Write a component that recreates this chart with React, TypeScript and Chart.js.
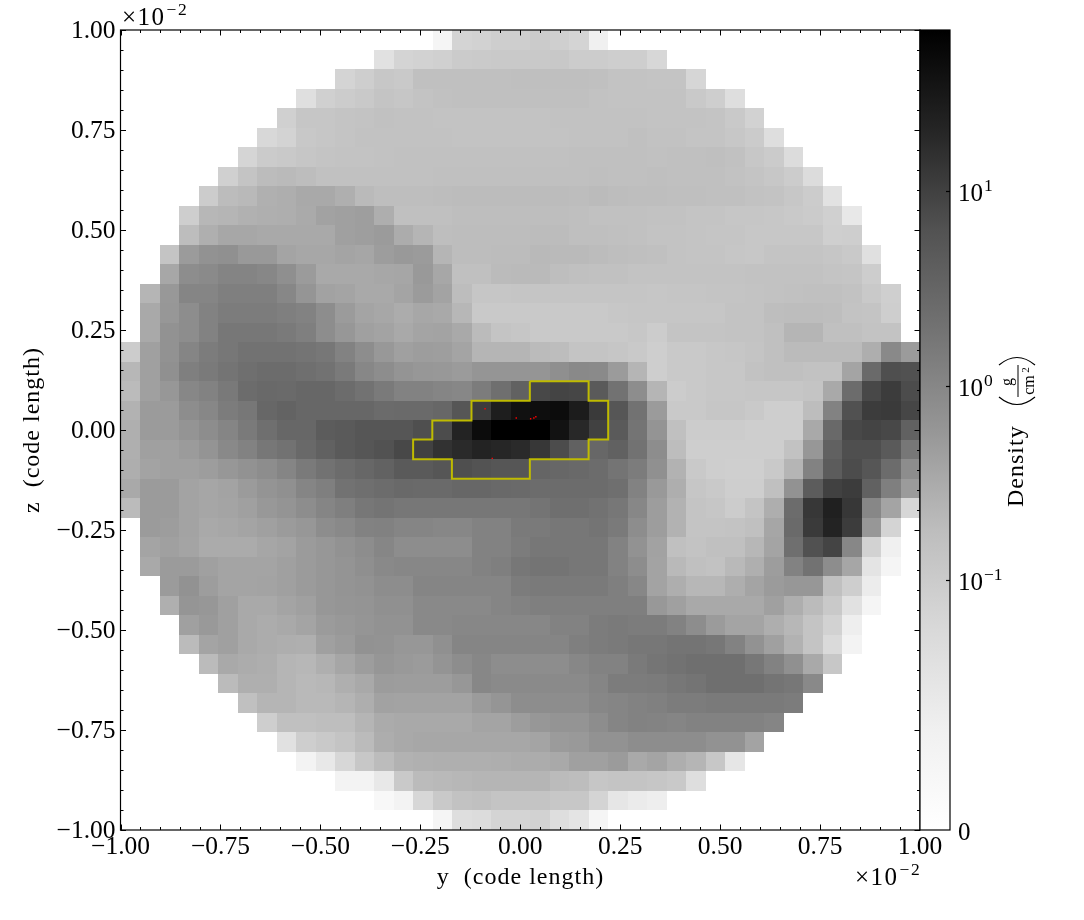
import React, { useEffect, useRef } from "react";
import { Chart, registerables } from "chart.js";

Chart.register(...registerables);

const FONT = '"Liberation Serif", serif';

// first filled column of every row (the disc is symmetric, rows run top to bottom)
const firstColumn = [16, 13, 11, 9, 8, 7, 6, 5, 4, 3, 3, 2, 2, 1, 1, 1, 0, 0, 0, 0, 0, 0, 0, 0, 0, 1, 1, 1, 2, 2, 3, 3, 4, 5, 6, 7, 8, 9, 11, 13, 16];

// grey level of each projected density cell
const shadeRows = [
  [245, 212, 210, 205, 205, 202, 206, 212, 240],
  [225, 212, 210, 208, 202, 201, 200, 200, 200, 199, 203, 203, 205, 205, 215],
  [212, 205, 198, 200, 190, 190, 190, 190, 190, 189, 189, 189, 189, 190, 193, 193, 195, 195, 214],
  [223, 208, 203, 200, 195, 197, 193, 191, 190, 190, 190, 190, 190, 190, 190, 192, 193, 193, 193, 193, 200, 205, 222],
  [208, 197, 197, 194, 193, 191, 192, 192, 193, 193, 193, 193, 193, 193, 192, 192, 192, 192, 192, 193, 193, 193, 195, 200, 210],
  [216, 211, 199, 197, 195, 192, 192, 192, 192, 192, 193, 193, 193, 193, 193, 193, 192, 192, 192, 190, 192, 192, 194, 194, 198, 202, 222],
  [213, 202, 200, 197, 195, 193, 193, 192, 191, 191, 191, 191, 191, 191, 191, 191, 191, 190, 190, 190, 190, 191, 190, 190, 189, 191, 198, 202, 220],
  [208, 194, 186, 184, 187, 191, 191, 191, 191, 191, 191, 190, 190, 190, 190, 190, 190, 190, 190, 189, 190, 190, 189, 190, 190, 190, 192, 194, 198, 203, 220],
  [203, 186, 182, 173, 170, 165, 165, 172, 184, 188, 188, 188, 187, 186, 186, 186, 186, 186, 186, 187, 185, 187, 188, 188, 189, 189, 190, 190, 192, 193, 198, 203, 226],
  [205, 180, 178, 174, 172, 170, 166, 157, 155, 153, 170, 190, 190, 190, 188, 188, 188, 188, 188, 188, 189, 191, 191, 191, 192, 192, 194, 194, 197, 197, 198, 200, 202, 208, 232],
  [187, 172, 163, 163, 165, 165, 165, 165, 155, 153, 150, 168, 178, 188, 187, 187, 187, 187, 186, 186, 189, 189, 190, 191, 193, 193, 194, 196, 196, 198, 198, 198, 198, 207, 205],
  [195, 150, 140, 138, 148, 148, 160, 163, 163, 160, 162, 152, 148, 150, 178, 187, 187, 186, 186, 183, 184, 184, 186, 188, 189, 190, 193, 194, 195, 197, 198, 195, 195, 195, 197, 200, 224],
  [163, 135, 133, 127, 127, 130, 137, 150, 165, 165, 165, 163, 162, 148, 163, 190, 190, 185, 184, 184, 188, 190, 191, 191, 193, 193, 193, 193, 193, 193, 192, 192, 192, 192, 195, 196, 204],
  [178, 147, 128, 128, 122, 122, 122, 130, 143, 157, 160, 165, 165, 160, 150, 158, 187, 197, 197, 196, 196, 196, 196, 196, 196, 196, 197, 196, 196, 195, 195, 193, 192, 191, 190, 190, 192, 200, 207],
  [165, 145, 135, 125, 120, 120, 120, 122, 125, 135, 150, 160, 163, 168, 163, 165, 180, 200, 200, 200, 200, 200, 200, 200, 198, 197, 197, 197, 197, 197, 193, 193, 188, 187, 187, 188, 193, 195, 205],
  [165, 140, 135, 125, 115, 115, 115, 118, 122, 135, 145, 155, 158, 165, 160, 158, 165, 185, 195, 197, 200, 200, 200, 200, 200, 198, 203, 195, 195, 195, 193, 193, 190, 178, 178, 190, 190, 193, 193],
  [203, 155, 140, 128, 120, 115, 110, 110, 110, 112, 115, 125, 135, 147, 155, 152, 153, 160, 178, 178, 178, 185, 187, 195, 195, 197, 200, 205, 200, 200, 198, 197, 195, 190, 185, 185, 185, 185, 170, 132, 150],
  [180, 155, 138, 122, 118, 112, 108, 105, 105, 108, 110, 118, 130, 135, 142, 145, 147, 150, 143, 143, 143, 143, 137, 132, 133, 150, 178, 205, 200, 200, 198, 198, 192, 190, 190, 192, 192, 160, 103, 78, 80],
  [185, 155, 145, 130, 125, 117, 105, 102, 103, 100, 100, 105, 110, 118, 125, 125, 128, 130, 120, 108, 95, 72, 68, 70, 88, 110, 135, 178, 203, 200, 198, 198, 197, 197, 197, 195, 165, 105, 72, 60, 75],
  [175, 150, 150, 135, 130, 120, 115, 100, 97, 100, 100, 100, 100, 104, 103, 103, 100, 85, 60, 30, 17, 14, 12, 28, 58, 85, 110, 150, 200, 200, 197, 197, 200, 205, 205, 187, 125, 80, 60, 58, 70],
  [172, 150, 150, 142, 135, 128, 118, 108, 100, 100, 90, 88, 85, 85, 85, 78, 75, 35, 12, 0, 0, 0, 18, 40, 65, 88, 112, 142, 190, 203, 203, 203, 205, 205, 205, 165, 102, 72, 68, 72, 95],
  [172, 155, 155, 150, 142, 132, 125, 115, 110, 102, 95, 88, 85, 81, 72, 65, 50, 42, 35, 38, 42, 55, 75, 95, 100, 95, 110, 135, 187, 205, 205, 205, 205, 205, 192, 145, 95, 78, 78, 88, 115],
  [170, 158, 155, 155, 152, 145, 140, 135, 128, 118, 110, 105, 100, 96, 88, 88, 85, 78, 82, 85, 85, 98, 100, 102, 105, 112, 120, 138, 175, 200, 205, 207, 207, 200, 178, 125, 90, 75, 85, 105, 135],
  [165, 150, 150, 158, 162, 158, 150, 142, 138, 128, 122, 110, 108, 105, 102, 103, 103, 100, 100, 102, 103, 105, 105, 105, 105, 108, 125, 148, 170, 197, 200, 205, 205, 190, 140, 90, 65, 60, 95, 122, 150],
  [185, 150, 150, 158, 162, 160, 155, 147, 142, 135, 128, 122, 115, 112, 115, 115, 115, 115, 115, 115, 115, 112, 108, 108, 110, 115, 130, 152, 175, 195, 197, 203, 195, 170, 105, 55, 32, 55, 130, 160, 215],
  [150, 152, 158, 165, 163, 160, 155, 150, 145, 135, 132, 125, 124, 128, 128, 130, 130, 125, 125, 118, 118, 115, 115, 112, 118, 135, 152, 175, 195, 195, 193, 190, 162, 103, 58, 35, 60, 145, 212],
  [160, 155, 160, 167, 167, 167, 162, 158, 150, 145, 140, 135, 129, 135, 135, 135, 135, 125, 125, 120, 115, 115, 115, 115, 125, 140, 157, 190, 193, 190, 190, 180, 160, 108, 80, 68, 130, 210, 240],
  [165, 150, 150, 155, 160, 160, 160, 155, 150, 145, 142, 137, 132, 130, 130, 130, 130, 125, 122, 115, 112, 112, 115, 115, 125, 135, 158, 182, 190, 192, 182, 172, 152, 125, 110, 135, 162, 228, 245],
  [150, 140, 152, 160, 160, 158, 155, 150, 145, 142, 140, 135, 135, 128, 128, 128, 128, 128, 120, 118, 118, 118, 118, 122, 130, 159, 170, 180, 180, 170, 160, 150, 145, 145, 190, 205, 236],
  [172, 143, 145, 155, 165, 165, 160, 155, 145, 143, 142, 138, 138, 132, 132, 132, 132, 128, 125, 122, 122, 122, 122, 122, 122, 147, 155, 165, 165, 165, 165, 155, 170, 185, 200, 225, 245],
  [155, 148, 155, 165, 168, 165, 160, 150, 147, 143, 140, 140, 132, 132, 130, 130, 130, 130, 130, 125, 125, 120, 118, 120, 120, 125, 135, 150, 160, 160, 170, 180, 195, 210, 238],
  [185, 160, 155, 165, 168, 170, 172, 155, 150, 140, 141, 145, 145, 138, 128, 128, 128, 128, 128, 128, 122, 120, 118, 115, 115, 112, 112, 115, 125, 140, 155, 175, 195, 218, 243],
  [185, 165, 168, 170, 178, 180, 172, 162, 152, 144, 148, 150, 142, 135, 130, 135, 135, 135, 135, 130, 125, 125, 118, 113, 110, 108, 108, 108, 115, 125, 138, 165, 198],
  [185, 172, 172, 178, 182, 180, 172, 165, 151, 152, 152, 152, 145, 130, 133, 133, 133, 133, 133, 128, 120, 120, 119, 115, 112, 108, 108, 108, 112, 115, 132],
  [190, 178, 178, 182, 182, 178, 170, 157, 158, 158, 158, 158, 150, 143, 135, 135, 135, 135, 130, 128, 125, 123, 120, 120, 118, 118, 118, 118, 120],
  [205, 190, 190, 188, 188, 178, 167, 165, 165, 165, 165, 160, 160, 152, 145, 142, 142, 135, 128, 125, 126, 128, 125, 125, 125, 125, 128],
  [225, 205, 200, 195, 185, 169, 165, 163, 163, 163, 163, 163, 163, 160, 150, 148, 140, 140, 135, 135, 135, 135, 140, 140, 158],
  [243, 232, 215, 198, 186, 175, 173, 172, 172, 172, 170, 168, 168, 165, 155, 155, 150, 165, 160, 170, 178, 198, 230],
  [243, 243, 232, 200, 185, 182, 180, 178, 178, 178, 178, 185, 187, 197, 195, 195, 197, 200, 222],
  [248, 243, 215, 200, 192, 190, 195, 195, 195, 198, 198, 212, 230, 235, 238],
  [245, 222, 220, 212, 212, 210, 222, 228, 245],
];

const contourY = [0.024, 0.171, 0.171, 0.22, 0.22, 0.171, 0.171, 0.024, 0.024, -0.171, -0.171, -0.268, -0.268, -0.22, -0.22, -0.122, -0.122, 0.024, 0.024];
const contourZ = [0.122, 0.122, 0.073, 0.073, -0.024, -0.024, -0.073, -0.073, -0.122, -0.122, -0.073, -0.073, -0.024, -0.024, 0.024, 0.024, 0.073, 0.073, 0.122];

const particleY = [-0.088, -0.01, 0.026, 0.034, 0.039, -0.07];
const particleZ = [0.053, 0.03, 0.028, 0.03, 0.033, -0.071];

const colorbarTicks = [-2.285, -1, 0, 1];
const colorbarLabels = [["0", ""], ["10", "\u22121"], ["10", "0"], ["10", "1"]];
const greysStops = [255, 240, 217, 189, 150, 115, 82, 37, 0];

const GRID = shadeRows.length;

// mid greys were read a touch dark by eye
const calibrate = (shade: number) =>
  Math.round(shade + Math.max(0, 6 - Math.abs(shade - 140) / 12));

const drawExponent = (ctx: CanvasRenderingContext2D, x: number, y: number, base: string, power: string) => {
  ctx.textAlign = "left";
  ctx.textBaseline = "alphabetic";
  ctx.font = `25px ${FONT}`;
  ctx.fillText(base, x, y);
  const w = ctx.measureText(base).width;
  ctx.font = `17.5px ${FONT}`;
  ctx.fillText(power, x + w + 1, y - 10);
};

const heatmapPlugin = {
  id: "heatmap",
  beforeDatasetsDraw: (chart: Chart) => {
    const { ctx, scales } = chart;
    const xs = scales.x;
    const ys = scales.y;
    const edge = 2 / GRID;
    ctx.save();
    shadeRows.forEach((row, r) => {
      row.forEach((shade, i) => {
        const c = firstColumn[r] + i;
        const left = Math.round(xs.getPixelForValue(-1 + c * edge));
        const right = Math.round(xs.getPixelForValue(-1 + (c + 1) * edge));
        const top = Math.round(ys.getPixelForValue(1 - r * edge));
        const bottom = Math.round(ys.getPixelForValue(1 - (r + 1) * edge));
        const g = calibrate(shade);
        ctx.fillStyle = `rgb(${g},${g},${g})`;
        ctx.fillRect(left, top, right - left, bottom - top);
      });
    });
    ctx.restore();
  },
  afterDraw: (chart: Chart) => {
    const { ctx, scales, chartArea } = chart;
    const xs = scales.x;
    const ys = scales.y;
    const bar = scales.bar;
    const { left, right, top, bottom } = chartArea;
    ctx.save();

    // ticks point inwards on all four sides
    ctx.strokeStyle = "#000";
    ctx.lineWidth = 1;
    ctx.beginPath();
    for (let i = 0; i <= 40; i++) {
      const v = -1 + i * 0.05;
      const len = i % 5 === 0 ? 5.5 : 3;
      const px = Math.round(xs.getPixelForValue(v)) + 0.5;
      const py = Math.round(ys.getPixelForValue(v)) + 0.5;
      ctx.moveTo(px, bottom);
      ctx.lineTo(px, bottom - len);
      ctx.moveTo(px, top);
      ctx.lineTo(px, top + len);
      ctx.moveTo(left, py);
      ctx.lineTo(left + len, py);
      ctx.moveTo(right, py);
      ctx.lineTo(right - len, py);
    }
    ctx.stroke();
    ctx.lineWidth = 1.2;
    ctx.strokeRect(left, top, right - left, bottom - top);

    // colour bar
    const barLeft = right;
    const barRight = right + 30;
    const grad = ctx.createLinearGradient(0, bottom, 0, top);
    greysStops.forEach((g, i) => {
      grad.addColorStop(i / (greysStops.length - 1), `rgb(${g},${g},${g})`);
    });
    ctx.fillStyle = grad;
    ctx.fillRect(barLeft, top, barRight - barLeft, bottom - top);
    ctx.strokeRect(barLeft, top, barRight - barLeft, bottom - top);
    ctx.fillStyle = "#000";
    colorbarTicks.forEach((t, i) => {
      const py = Math.round(bar.getPixelForValue(t)) + 0.5;
      if (i > 0) {
        ctx.beginPath();
        ctx.moveTo(barRight, py);
        ctx.lineTo(barRight - 4, py);
        ctx.stroke();
      }
      drawExponent(ctx, barRight + 8, py + 9, colorbarLabels[i][0], colorbarLabels[i][1]);
    });

    // offset text of both axes
    (ctx as any).letterSpacing = "1.5px";
    drawExponent(ctx, 122, 25, "\u00d710", "\u22122");
    drawExponent(ctx, 855, 885, "\u00d710", "\u22122");

    // axis titles, the reference face runs wider than Liberation
    (ctx as any).letterSpacing = "1px";
    ctx.font = `24px ${FONT}`;
    ctx.textAlign = "center";
    ctx.textBaseline = "middle";
    ctx.fillText("y  (code length)", 520.5, 878);
    ctx.save();
    ctx.translate(33, 430);
    ctx.rotate(-Math.PI / 2);
    ctx.fillText("z  (code length)", 0, 0);
    ctx.restore();

    // colour bar title, rotated
    ctx.translate(1017, 507);
    ctx.rotate(-Math.PI / 2);
    ctx.textAlign = "left";
    ctx.fillText("Density", 0, 0);
    (ctx as any).letterSpacing = "0px";
    ctx.lineWidth = 1.2;
    ctx.beginPath();
    ctx.moveTo(110, -18);
    ctx.quadraticCurveTo(95, 0, 110, 18);
    ctx.moveTo(142, -18);
    ctx.quadraticCurveTo(157, 0, 142, 18);
    ctx.stroke();
    ctx.textAlign = "center";
    ctx.font = `16px ${FONT}`;
    ctx.fillText("g", 125, -9);
    ctx.fillText("cm", 122, 13);
    ctx.font = `11px ${FONT}`;
    ctx.fillText("2", 137, 9);
    ctx.fillRect(110, 0.5, 32, 1);
    ctx.restore();
  },
};

const formatTick = (value: string | number) =>
  Number(value).toFixed(2).replace("-", "\u2212");

const App: React.FC = () => {
  const canvasRef = useRef<HTMLCanvasElement>(null);

  useEffect(() => {
    if (!canvasRef.current) return;
    document.body.style.margin = "0";

    const chart = new Chart(canvasRef.current, {
      type: "scatter",
      data: {
        datasets: [
          {
            label: "Contour",
            data: contourY.map((y, i) => ({ x: y, y: contourZ[i] })),
            showLine: true,
            borderColor: "rgb(191,187,0)",
            borderWidth: 2,
            pointRadius: 0,
            tension: 0,
            order: 2,
          },
          {
            label: "Particles",
            data: particleY.map((y, i) => ({ x: y, y: particleZ[i] })),
            backgroundColor: "#ff0000",
            borderWidth: 0,
            pointStyle: "rect",
            pointRadius: 1,
            order: 1,
          },
        ],
      },
      options: {
        responsive: false,
        animation: false,
        devicePixelRatio: 1,
        layout: { padding: { top: 30 } },
        plugins: { legend: { display: false }, tooltip: { enabled: false } },
        scales: {
          x: {
            type: "linear",
            min: -1,
            max: 1,
            afterFit: (s: any) => {
              s.height = 90;
            },
            border: { display: false },
            grid: { display: false, drawTicks: false },
            ticks: {
              stepSize: 0.25,
              autoSkip: false,
              maxRotation: 0,
              padding: 2,
              color: "#000",
              font: { family: FONT, size: 25.5 },
              callback: formatTick,
            },
          },
          y: {
            type: "linear",
            min: -1,
            max: 1,
            afterFit: (s: any) => {
              s.width = 120.5;
            },
            border: { display: false },
            grid: { display: false, drawTicks: false },
            ticks: {
              stepSize: 0.25,
              autoSkip: false,
              padding: 5,
              labelOffset: 1.5,
              color: "#000",
              font: { family: FONT, size: 25.5 },
              callback: formatTick,
            },
          },
          bar: {
            type: "linear",
            position: "right",
            min: -2.285,
            max: 1.828,
            afterFit: (s: any) => {
              s.width = 164;
            },
            border: { display: false },
            grid: { display: false, drawTicks: false },
            ticks: { display: false },
          },
        },
      },
      plugins: [heatmapPlugin],
    });

    return () => chart.destroy();
  }, []);

  return <canvas ref={canvasRef} width={1084} height={920} style={{ display: "block" }} />;
};

export default App;
